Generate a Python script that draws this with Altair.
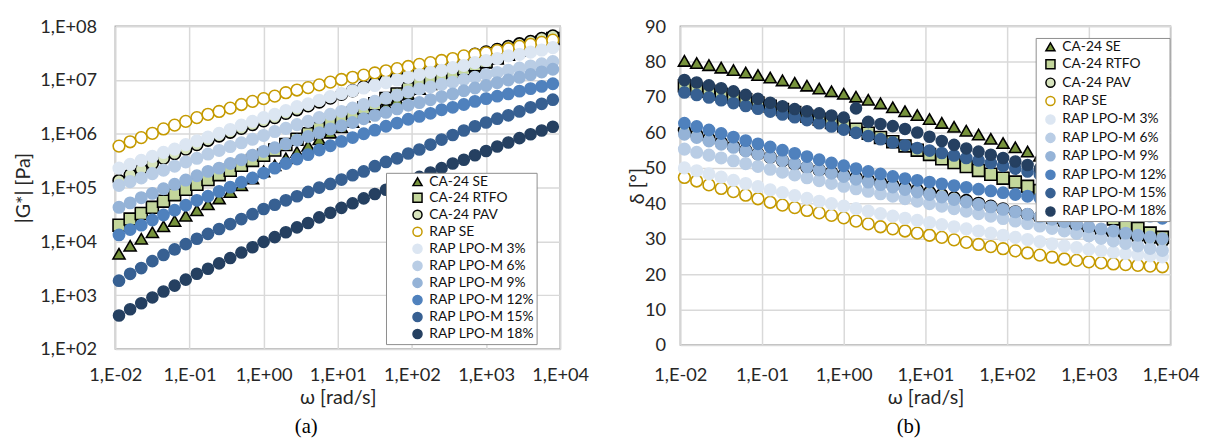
import altair as alt
import pandas as pd

# ---------------- data ----------------
OMEGA = [0.01122, 0.01585, 0.02239, 0.03162, 0.04467, 0.0631, 0.08913, 0.1259, 0.1778, 0.2512,
         0.3548, 0.5012, 0.7079, 1.0, 1.413, 1.995, 2.818, 3.981, 5.623, 7.943,
         11.22, 15.85, 22.39, 31.62, 44.67, 63.1, 89.13, 125.9, 177.8, 251.2,
         354.8, 501.2, 707.9, 1000, 1413, 1995, 2818, 3981, 5623, 7943]

SERIES = ["CA-24 SE", "CA-24 RTFO", "CA-24 PAV", "RAP SE", "RAP LPO-M 3%", "RAP LPO-M 6%",
          "RAP LPO-M 9%", "RAP LPO-M 12%", "RAP LPO-M 15%", "RAP LPO-M 18%"]

# |G*| [Pa]
G_CA_SE = [5.9e3, 8.3e3, 1.12e4, 1.48e4, 1.91e4, 2.4e4, 3.0e4, 3.8e4, 4.9e4, 6.3e4,
           8.3e4, 1.10e5, 1.48e5, 2.0e5, 2.6e5, 3.5e5, 4.6e5, 6.0e5, 7.9e5, 1.05e6,
           1.32e6, 1.66e6, 2.1e6, 2.7e6, 3.4e6, 4.3e6, 5.5e6, 6.8e6, 8.3e6, 1.0e7,
           1.20e7, 1.45e7, 1.74e7, 2.1e7, 2.5e7, 2.9e7, 3.5e7, 4.2e7, 5.0e7, 5.9e7]
G_CA_RTFO = [2.0e4, 2.6e4, 3.3e4, 4.3e4, 5.6e4, 7.4e4, 9.3e4, 1.15e5, 1.41e5, 1.74e5,
             2.1e5, 2.6e5, 3.2e5, 4.0e5, 5.0e5, 6.3e5, 7.9e5, 1.0e6, 1.26e6, 1.58e6,
             1.95e6, 2.4e6, 3.0e6, 3.6e6, 4.5e6, 5.5e6, 6.9e6, 8.3e6, 1.0e7, 1.17e7,
             1.38e7, 1.62e7, 1.91e7, 2.2e7, 2.6e7, 3.1e7, 3.6e7, 4.3e7, 5.0e7, 5.9e7]
G_CA_PAV = [1.35e5, 1.74e5, 2.2e5, 2.8e5, 3.5e5, 4.3e5, 5.2e5, 6.3e5, 7.6e5, 9.1e5,
            1.07e6, 1.26e6, 1.48e6, 1.74e6, 2.0e6, 2.4e6, 2.8e6, 3.3e6, 3.9e6, 4.6e6,
            5.4e6, 6.3e6, 7.4e6, 8.7e6, 1.02e7, 1.17e7, 1.35e7, 1.55e7, 1.78e7, 2.0e7,
            2.3e7, 2.6e7, 3.0e7, 3.3e7, 3.7e7, 4.2e7, 4.7e7, 5.2e7, 5.9e7, 6.6e7]
G_RAP_SE = [5.9e5, 7.1e5, 8.5e5, 1.02e6, 1.23e6, 1.45e6, 1.70e6, 2.0e6, 2.3e6, 2.6e6,
            3.0e6, 3.5e6, 4.0e6, 4.5e6, 5.0e6, 5.8e6, 6.5e6, 7.2e6, 8.1e6, 9.1e6,
            1.02e7, 1.12e7, 1.23e7, 1.35e7, 1.48e7, 1.62e7, 1.78e7, 1.95e7, 2.1e7, 2.3e7,
            2.5e7, 2.8e7, 3.0e7, 3.2e7, 3.5e7, 3.8e7, 4.2e7, 4.6e7, 5.0e7, 5.5e7]
G_LPO3 = [2.3e5, 2.7e5, 3.2e5, 3.8e5, 4.5e5, 5.2e5, 6.3e5, 7.4e5, 8.7e5, 1.02e6,
          1.20e6, 1.45e6, 1.70e6, 2.0e6, 2.3e6, 2.7e6, 3.2e6, 3.6e6, 4.2e6, 4.9e6,
          5.6e6, 6.3e6, 7.1e6, 7.9e6, 8.9e6, 1.0e7, 1.12e7, 1.26e7, 1.38e7, 1.51e7,
          1.70e7, 1.86e7, 2.1e7, 2.3e7, 2.5e7, 2.8e7, 3.0e7, 3.3e7, 3.6e7, 4.0e7]
G_LPO6 = [1.10e5, 1.29e5, 1.51e5, 1.82e5, 2.1e5, 2.5e5, 3.0e5, 3.5e5, 4.2e5, 4.9e5,
          5.8e5, 6.8e5, 7.9e5, 9.3e5, 1.10e6, 1.26e6, 1.48e6, 1.70e6, 2.0e6, 2.3e6,
          2.6e6, 3.0e6, 3.5e6, 4.0e6, 4.6e6, 5.2e6, 6.0e6, 6.8e6, 7.4e6, 8.3e6,
          9.1e6, 1.02e7, 1.12e7, 1.26e7, 1.38e7, 1.51e7, 1.66e7, 1.82e7, 2.0e7, 2.2e7]
G_LPO9 = [4.3e4, 5.2e4, 6.5e4, 7.8e4, 9.5e4, 1.15e5, 1.38e5, 1.66e5, 2.0e5, 2.3e5,
          2.8e5, 3.3e5, 4.0e5, 4.7e5, 5.5e5, 6.5e5, 7.6e5, 8.9e5, 1.05e6, 1.23e6,
          1.41e6, 1.62e6, 1.91e6, 2.2e6, 2.5e6, 2.9e6, 3.4e6, 3.8e6, 4.3e6, 4.9e6,
          5.5e6, 6.3e6, 7.1e6, 7.9e6, 8.9e6, 1.0e7, 1.12e7, 1.26e7, 1.41e7, 1.58e7]
G_LPO12 = [1.32e4, 1.66e4, 2.0e4, 2.5e4, 3.1e4, 3.8e4, 4.7e4, 5.8e4, 6.9e4, 8.5e4,
           1.02e5, 1.26e5, 1.51e5, 1.86e5, 2.3e5, 2.8e5, 3.4e5, 4.1e5, 5.0e5, 6.0e5,
           7.2e5, 8.5e5, 1.0e6, 1.17e6, 1.38e6, 1.58e6, 1.86e6, 2.1e6, 2.4e6, 2.8e6,
           3.1e6, 3.5e6, 4.0e6, 4.5e6, 5.0e6, 5.5e6, 6.2e6, 6.9e6, 7.6e6, 8.5e6]
G_LPO15 = [1.86e3, 2.5e3, 3.2e3, 4.3e3, 5.6e3, 7.1e3, 8.9e3, 1.12e4, 1.38e4, 1.70e4,
           2.1e4, 2.6e4, 3.2e4, 4.0e4, 4.8e4, 5.8e4, 6.9e4, 8.3e4, 1.0e5, 1.17e5,
           1.41e5, 1.70e5, 2.0e5, 2.5e5, 3.0e5, 3.5e5, 4.3e5, 5.1e5, 6.3e5, 7.8e5,
           9.5e5, 1.15e6, 1.38e6, 1.62e6, 1.91e6, 2.2e6, 2.6e6, 3.1e6, 3.6e6, 4.3e6]
G_LPO18 = [4.2e2, 5.5e2, 7.1e2, 9.1e2, 1.17e3, 1.51e3, 1.95e3, 2.5e3, 3.1e3, 3.9e3,
           4.9e3, 6.2e3, 7.8e3, 9.8e3, 1.20e4, 1.48e4, 1.82e4, 2.2e4, 2.8e4, 3.4e4,
           4.2e4, 5.1e4, 6.3e4, 7.6e4, 9.1e4, 1.10e5, 1.32e5, 1.58e5, 1.91e5, 2.3e5,
           2.8e5, 3.3e5, 4.0e5, 4.8e5, 5.8e5, 6.9e5, 8.3e5, 9.8e5, 1.15e6, 1.35e6]

# phase angle delta [deg]
D_CA_SE = [80.2, 79.6, 79.0, 78.3, 77.6, 76.9, 76.2, 75.5, 74.7, 74.0,
           73.2, 72.4, 71.6, 70.9, 70.1, 69.2, 68.2, 67.1, 66.0, 64.9,
           63.8, 62.7, 61.6, 60.5, 59.4, 58.2, 57.0, 55.8, 54.6, 53.4,
           52.2, 51.0, 49.8, 48.6, 47.5, 46.4, 45.3, 44.2, 43.1, 42.0]
D_CA_RTFO = [73.2, 72.4, 71.6, 70.8, 70.0, 69.2, 68.3, 67.4, 66.5, 65.6,
             64.6, 63.7, 62.8, 61.9, 60.9, 59.8, 58.6, 57.4, 56.2, 55.0,
             53.8, 52.6, 51.5, 50.4, 49.3, 48.2, 47.1, 46.0, 44.8, 43.6,
             42.3, 41.0, 39.7, 38.4, 37.0, 35.6, 34.2, 32.9, 31.6, 30.4]
D_CA_PAV = [60.6, 59.4, 58.3, 57.2, 56.1, 55.0, 54.0, 53.0, 52.0, 51.1,
            50.2, 49.4, 48.7, 48.0, 47.3, 46.6, 45.9, 45.2, 44.5, 43.8,
            43.1, 42.4, 41.6, 40.8, 40.0, 39.2, 38.4, 37.6, 36.8, 36.0,
            35.2, 34.4, 33.6, 32.9, 32.2, 31.5, 30.9, 30.3, 29.8, 29.3]
D_RAP_SE = [47.3, 46.3, 45.2, 44.2, 43.3, 42.3, 41.3, 40.3, 39.5, 38.8,
            38.0, 37.3, 36.6, 35.9, 35.0, 34.2, 33.4, 32.8, 32.2, 31.6,
            31.0, 30.4, 29.7, 29.0, 28.4, 27.8, 27.2, 26.6, 26.0, 25.4,
            24.8, 24.3, 23.9, 23.5, 23.2, 22.9, 22.7, 22.5, 22.3, 22.1]
D_LPO3 = [50.0, 49.2, 48.3, 47.4, 46.5, 45.6, 44.7, 43.8, 43.0, 42.2,
          41.4, 40.6, 39.9, 39.2, 38.5, 37.8, 37.1, 36.4, 35.8, 35.2,
          34.6, 34.0, 33.4, 32.8, 32.2, 31.6, 31.0, 30.4, 29.8, 29.2,
          28.6, 28.0, 27.5, 27.0, 26.6, 26.2, 25.8, 25.5, 25.2, 24.9]
D_LPO6 = [55.3, 54.4, 53.6, 52.8, 52.0, 51.2, 50.4, 49.6, 48.8, 48.0,
          47.2, 46.4, 45.6, 44.8, 44.1, 43.4, 42.7, 42.0, 41.3, 40.6,
          39.9, 39.2, 38.5, 37.8, 37.1, 36.4, 35.7, 35.0, 34.3, 33.6,
          32.9, 32.2, 31.5, 30.8, 30.1, 29.4, 28.7, 28.0, 27.3, 26.7]
D_LPO9 = [59.5, 58.6, 57.6, 56.7, 55.8, 54.8, 53.9, 53.0, 52.1, 51.2,
          50.3, 49.4, 48.5, 47.6, 46.8, 46.0, 45.3, 44.6, 43.9, 43.2,
          42.5, 41.8, 41.1, 40.4, 39.7, 39.0, 38.3, 37.6, 36.9, 36.2,
          35.5, 34.8, 34.1, 33.4, 32.8, 32.2, 31.6, 31.0, 30.5, 30.0]
D_LPO12 = [62.6, 61.7, 60.7, 59.7, 58.7, 57.7, 56.8, 55.9, 55.0, 54.1,
           53.2, 52.3, 51.4, 50.6, 49.8, 49.0, 48.3, 47.6, 47.0, 46.5,
           46.0, 45.5, 45.0, 44.5, 44.0, 43.5, 43.0, 42.5, 42.0, 41.5,
           41.0, 40.5, 40.0, 39.4, 38.8, 38.2, 37.6, 37.0, 36.4, 35.8]
D_LPO15 = [71.3, 70.6, 69.9, 69.1, 68.3, 67.5, 66.7, 65.9, 65.1, 64.3,
           63.5, 62.6, 61.7, 60.8, 59.9, 59.0, 58.1, 57.2, 56.4, 55.6,
           54.9, 54.2, 53.5, 52.8, 52.1, 51.4, 50.6, 49.8, 49.0, 48.2,
           47.4, 46.6, 45.8, 45.0, 44.2, 43.4, 42.6, 41.9, 41.2, 40.5]
D_LPO18 = [74.8, 74.1, 73.3, 72.5, 71.6, 70.6, 69.5, 68.4, 67.4, 66.6,
           66.0, 65.4, 64.8, 64.2, 66.8, 63.0, 62.4, 61.8, 61.0, 60.0,
           58.8, 57.6, 56.5, 55.5, 54.6, 53.7, 52.8, 51.8, 50.8, 49.8,
           48.8, 47.8, 47.0, 46.3, 45.7, 45.1, 44.6, 44.2, 43.8, 43.5]

X_TICKS = [0.01, 0.1, 1, 10, 100, 1000, 10000]
X_LABELS = ["1,E-02", "1,E-01", "1,E+00", "1,E+01", "1,E+02", "1,E+03", "1,E+04"]
G_TICKS = [1e2, 1e3, 1e4, 1e5, 1e6, 1e7, 1e8]
G_LABELS = ["1,E+02", "1,E+03", "1,E+04", "1,E+05", "1,E+06", "1,E+07", "1,E+08"]
D_TICKS = [0, 10, 20, 30, 40, 50, 60, 70, 80, 90]

# ---------------- styles ----------------
FILL_COLORS = ["#77933C", "#C3D69B", "#D7E4BD", "#FFFFFF", "#DCE6F2", "#B9CDE5",
               "#95B3D7", "#4F81BD", "#376092", "#254061"]
STROKE_COLORS = ["#000000", "#000000", "#000000", "#C59A00", "#DCE6F2", "#B9CDE5",
                 "#95B3D7", "#4F81BD", "#376092", "#254061"]
SHAPES = ["triangle-up", "square", "circle", "circle", "circle", "circle",
          "circle", "circle", "circle", "circle"]
SIZE_KEYS = list(range(len(SERIES)))
SIZES = [150, 125, 165, 140, 190, 190, 190, 190, 190, 190]
STROKE_WIDTHS = [1.6, 1.6, 1.6, 2.6, 1, 1, 1, 1, 1, 1]

FONT = "Lato"
TXT = "#262626"
LABEL_SIZE = 18.5
TITLE_SIZE = 20


def build_df(series_values):
    rows = []
    for i, (name, vals) in enumerate(zip(SERIES, series_values)):
        for w, v in zip(OMEGA, vals):
            rows.append({"series": name, "omega": w, "value": v, "k": i})
    return pd.DataFrame(rows)


df_g = build_df([G_CA_SE, G_CA_RTFO, G_CA_PAV, G_RAP_SE, G_LPO3, G_LPO6,
                 G_LPO9, G_LPO12, G_LPO15, G_LPO18])
df_d = build_df([D_CA_SE, D_CA_RTFO, D_CA_PAV, D_RAP_SE, D_LPO3, D_LPO6,
                 D_LPO9, D_LPO12, D_LPO15, D_LPO18])


def arr_expr(labels, offset):
    lst = ",".join("'" + s + "'" for s in labels)
    return "[" + lst + "][round(log(datum.value)/LN10)" + ("+" if offset >= 0 else "-") + str(abs(offset)) + "]"


def legend(x, y, pad, symoff, rowpad, right_space=None):
    if right_space:
        extra = dict(title="\u2003", titleOrient="right", titleFont=FONT,
                     titleFontSize=right_space, titlePadding=0)
    else:
        extra = dict(title=None)
    return alt.Legend(orient="none", legendX=x, legendY=y,
                      fillColor="white", strokeColor="#8C8C8C", padding=pad,
                      symbolOffset=symoff, rowPadding=rowpad, labelFont=FONT,
                      labelFontSize=14, labelColor="#111111", symbolSize=85,
                      symbolStrokeWidth=1.5, labelOffset=5, labelLimit=300, **extra)


def style_enc(leg):
    return dict(
        fill=alt.Fill("series:N", scale=alt.Scale(domain=SERIES, range=FILL_COLORS), legend=leg),
        stroke=alt.Stroke("series:N", scale=alt.Scale(domain=SERIES, range=STROKE_COLORS), legend=leg),
        shape=alt.Shape("series:N", scale=alt.Scale(domain=SERIES, range=SHAPES), legend=leg),
        size=alt.Size("k:O", scale=alt.Scale(domain=SIZE_KEYS, range=SIZES), legend=None),
        strokeWidth=alt.StrokeWidth("k:O", scale=alt.Scale(domain=SIZE_KEYS, range=STROKE_WIDTHS), legend=None),
        order=alt.Order("k:Q"),
    )


def x_enc(label_pad):
    return alt.X("omega:Q", scale=alt.Scale(type="log", domain=[0.01, 10000], nice=False),
                 axis=alt.Axis(values=X_TICKS, labelExpr=arr_expr(X_LABELS, 2),
                               title="ω [rad/s]", grid=True, gridColor="#D9D9D9",
                               gridWidth=1.5, ticks=False, domain=False, labelFont=FONT,
                               labelFontSize=LABEL_SIZE, labelColor=TXT, labelPadding=label_pad,
                               labelFlush=False, labelOverlap=False, titleFont=FONT,
                               titleFontSize=TITLE_SIZE, titleFontWeight="normal", titleColor=TXT,
                               titlePadding=4))


left = alt.Chart(df_g).mark_point(opacity=1, fillOpacity=1, strokeOpacity=1).encode(
    x=x_enc(17),
    y=alt.Y("value:Q", scale=alt.Scale(type="log", domain=[100, 1e8], nice=False),
            axis=alt.Axis(values=G_TICKS, labelExpr=arr_expr(G_LABELS, -2),
                          title="|G*| [Pa]", grid=True, gridColor="#D9D9D9", gridWidth=1.5,
                          ticks=False, domain=False, labelFont=FONT, labelFontSize=LABEL_SIZE,
                          labelColor=TXT, labelPadding=19, labelOverlap=False, labelFlush=False,
                          titleFont=FONT, titleFontSize=TITLE_SIZE, titleFontWeight="normal",
                          titleColor=TXT, titlePadding=6)),
    **style_enc(legend(275, 149, 2, 23, 1.3, right_space=20)),
).properties(width=452, height=328,
             title=alt.TitleParams("(a)", orient="bottom", font="Liberation Serif",
                                   fontSize=21, fontWeight="normal", color="black",
                                   offset=9, dx=-32, anchor="middle"))

right = alt.Chart(df_d).mark_point(opacity=1, fillOpacity=1, strokeOpacity=1).encode(
    x=x_enc(21),
    y=alt.Y("value:Q", scale=alt.Scale(domain=[0, 90], nice=False),
            axis=alt.Axis(values=D_TICKS, title="δ [°]", grid=True, gridColor="#D9D9D9",
                          gridWidth=1.5, ticks=False, domain=False, labelFont=FONT,
                          labelFontSize=LABEL_SIZE, labelColor=TXT, labelPadding=15,
                          labelOverlap=False, labelFlush=False, titleFont=FONT,
                          titleFontSize=TITLE_SIZE, titleFontWeight="normal", titleColor=TXT,
                          titlePadding=-3)),
    **style_enc(legend(361, 12, 2, 6, 2.7)),
).properties(width=498, height=324,
             title=alt.TitleParams("(b)", orient="bottom", font="Liberation Serif",
                                   fontSize=21, fontWeight="normal", color="black",
                                   offset=9, dx=-17, anchor="middle"))

chart = alt.hconcat(left, right, spacing=122, bounds="flush").resolve_scale(
    fill="independent", stroke="independent", shape="independent",
    size="independent", strokeWidth="independent"
).resolve_legend(
    fill="independent", stroke="independent", shape="independent"
).configure_view(
    stroke="#A6A6A6", strokeWidth=1.5
).properties(
    padding={"left": 5, "top": 5, "right": 5, "bottom": 0}
)

chart.save("out.html", embed_options={"renderer": "svg", "actions": False})
